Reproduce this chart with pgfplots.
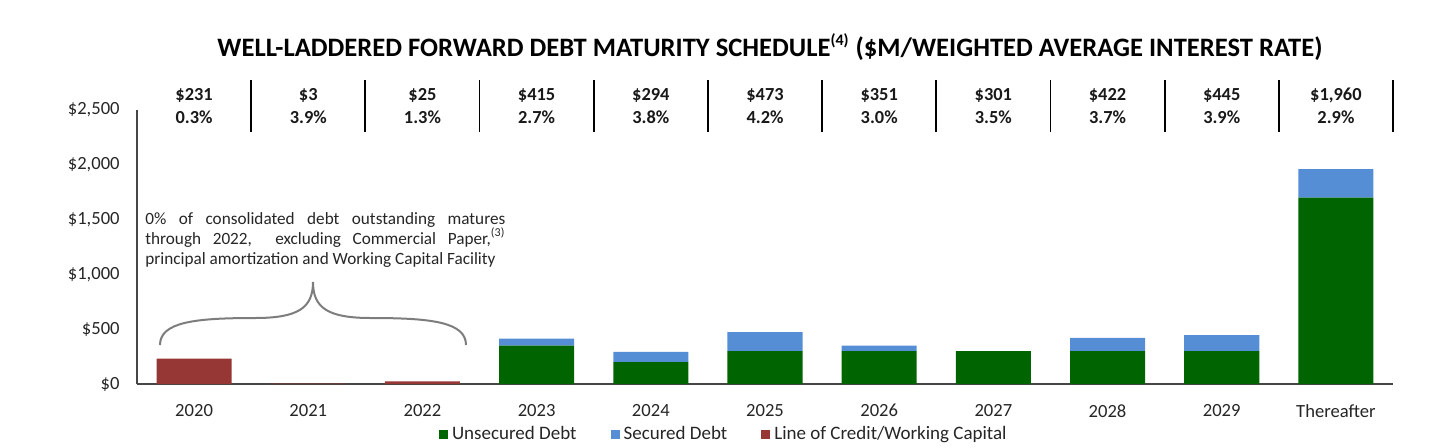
\documentclass[border=0pt]{standalone}
\usepackage{fontspec}
\setmainfont{Carlito}
\usepackage{pgfplots}
\usepackage{pgfplotstable}
\pgfplotsset{compat=1.18}
\definecolor{cgreen}{RGB}{0,100,0}
\definecolor{cblue}{RGB}{85,142,213}
\definecolor{cred}{RGB}{150,55,53}
\definecolor{caxis}{RGB}{70,70,70}
\definecolor{cbrace}{RGB}{125,125,125}
\pgfplotstableread{
x uns sec loc
0 0 0 231
1 0 0 3
2 0 0 25
3 350 65 0
4 200 94 0
5 300 173 0
6 300 51 0
7 301 0 0
8 300 122 0
9 300 145 0
10 1700 260 0
}\debt
\tikzset{toplab/.style={align=center, inner sep=0pt, text=black!90, font=\bfseries\fontsize{9.2}{11.65}\selectfont}}
\begin{document}
\begin{tikzpicture}
\useasboundingbox (0,0) rectangle (714.5pt,223.5pt);
\begin{axis}[
 at={(68.5pt,31.5pt)}, anchor=south west,
 scale only axis, width=628pt, height=137pt,
 ybar stacked, bar width=0.657,
 xmin=-0.5, xmax=10.5, ymin=0, ymax=2500,
 axis x line=bottom, axis y line=left,
 axis line style={-, caxis, line width=0.9pt},
 xtick={0,...,10},
 xticklabels={2020,2021,2022,2023,2024,2025,2026,2027,2028,2029,Thereafter},
 ytick={0,500,...,2500},
 yticklabels={\$0,\$500,{\$1,000},{\$1,500},{\$2,000},{\$2,500}},
 major tick length=0pt,
 tick label style={font=\fontsize{9.3}{11}\selectfont, text=black!85},
 xticklabel style={anchor=north, inner sep=0pt, yshift=-10pt},
 yticklabel style={anchor=east, inner sep=0pt, xshift=-8.5pt},
 clip=false,
 legend style={at={(0.468,-0.1825)}, anchor=center, draw=none, legend columns=-1,
   font=\fontsize{9.5}{11}\selectfont, text=black!85,
   /tikz/every even column/.append style={column sep=15pt}},
 legend image code/.code={\fill[#1] (-1.2pt,-2.25pt) rectangle (3.3pt,2.25pt);},
]
\addplot[fill=cgreen, draw=none] table[x=x,y=uns]{\debt};
\addplot[fill=cblue, draw=none] table[x=x,y=sec]{\debt};
\addplot[fill=cred, draw=none] table[x=x,y=loc]{\debt};
\legend{Unsecured Debt, Secured Debt, Line of Credit/Working Capital}
\draw[black, line width=0.9pt]
  (axis cs:0.5,2299) -- (axis cs:0.5,2774)
  (axis cs:1.5,2299) -- (axis cs:1.5,2774)
  (axis cs:2.5,2299) -- (axis cs:2.5,2774)
  (axis cs:3.5,2299) -- (axis cs:3.5,2774)
  (axis cs:4.5,2299) -- (axis cs:4.5,2774)
  (axis cs:5.5,2299) -- (axis cs:5.5,2774)
  (axis cs:6.5,2299) -- (axis cs:6.5,2774)
  (axis cs:7.5,2299) -- (axis cs:7.5,2774)
  (axis cs:8.5,2299) -- (axis cs:8.5,2774)
  (axis cs:9.5,2299) -- (axis cs:9.5,2774)
  (axis cs:10.5,2299) -- (axis cs:10.5,2774);
\node[toplab] at (axis cs:0,2523) {\strut\$231\\\strut 0.3\%};
\node[toplab] at (axis cs:1,2523) {\strut\$3\\\strut 3.9\%};
\node[toplab] at (axis cs:2,2523) {\strut\$25\\\strut 1.3\%};
\node[toplab] at (axis cs:3,2523) {\strut\$415\\\strut 2.7\%};
\node[toplab] at (axis cs:4,2523) {\strut\$294\\\strut 3.8\%};
\node[toplab] at (axis cs:5,2523) {\strut\$473\\\strut 4.2\%};
\node[toplab] at (axis cs:6,2523) {\strut\$351\\\strut 3.0\%};
\node[toplab] at (axis cs:7,2523) {\strut\$301\\\strut 3.5\%};
\node[toplab] at (axis cs:8,2523) {\strut\$422\\\strut 3.7\%};
\node[toplab] at (axis cs:9,2523) {\strut\$445\\\strut 3.9\%};
\node[toplab] at (axis cs:10,2523) {\strut\$1,960\\\strut 2.9\%};
\end{axis}
\begin{scope}[x=0.5pt,y=-0.5pt,shift={(0pt,223.5pt)}]
\node[font=\bfseries\fontsize{13.3}{15}\selectfont, inner sep=0pt, text=black] at (770,47)
  {WELL-LADDERED FORWARD DEBT MATURITY SCHEDULE\textsuperscript{\fontsize{8}{9}\selectfont(4)} (\$M/WEIGHTED AVERAGE INTEREST RATE)};
\node[anchor=north west, text width=180pt, align=justify, inner sep=0pt, text=black!85,
  font=\fontsize{8.6}{10}\selectfont] at (145,212)
  {0\% of consolidated debt outstanding matures\linebreak through 2022,\ \ excluding Commercial Paper,\textsuperscript{(3)}\linebreak principal amortization and Working Capital Facility};
\draw[cbrace, line width=1pt] (160,345) .. controls (160,322) and (195,318) .. (255,318)
  .. controls (298,318) and (313,308) .. (313,282)
  .. controls (313,308) and (328,318) .. (371,318)
  .. controls (431,318) and (466,322) .. (466,345);
\end{scope}
\end{tikzpicture}
\end{document}
